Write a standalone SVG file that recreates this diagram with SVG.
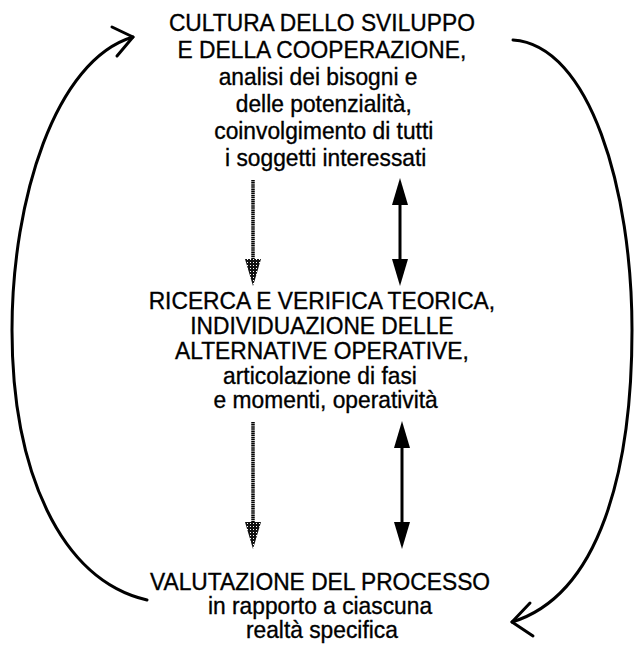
<svg xmlns="http://www.w3.org/2000/svg" width="640" height="648" viewBox="0 0 640 648">
<defs>
<style>
.t{font-family:"Liberation Sans",Arial,sans-serif;font-size:24px;fill:#000;stroke:#000;stroke-width:0.35;text-anchor:middle}
.curve{fill:none;stroke:#000;stroke-width:3;stroke-linecap:round;stroke-linejoin:round}
.dot{fill:none;stroke:#000;stroke-width:3.5;stroke-dasharray:1.5 0.6}
.solid{fill:none;stroke:#000;stroke-width:3}
.head{fill:#000}
.dhead{fill:url(#halftone)}
</style>
<pattern id="halftone" width="3" height="3" patternUnits="userSpaceOnUse">
<rect width="3" height="3" fill="#111"/>
<rect x="1" y="1" width="1" height="1" fill="#fff"/>
</pattern>
</defs>
<rect width="640" height="648" fill="#fff"/>
<g id="node-cultura" transform="translate(320 0) scale(0.95 1) translate(-320 0)">
<text class="t" x="322" y="31">CULTURA DELLO SVILUPPO</text>
<text class="t" x="322" y="58">E DELLA COOPERAZIONE,</text>
<text class="t" x="318" y="85">analisi dei bisogni e</text>
<text class="t" x="324" y="112">delle potenzialità,</text>
<text class="t" x="324" y="139">coinvolgimento di tutti</text>
<text class="t" x="326" y="166">i soggetti interessati</text>
</g>
<g id="node-ricerca" transform="translate(320 0) scale(0.95 1) translate(-320 0)">
<text class="t" x="322" y="309">RICERCA E VERIFICA TEORICA,</text>
<text class="t" x="322" y="334">INDIVIDUAZIONE DELLE</text>
<text class="t" x="322" y="359">ALTERNATIVE OPERATIVE,</text>
<text class="t" x="320" y="384">articolazione di fasi</text>
<text class="t" x="326" y="408">e momenti, operatività</text>
</g>
<g id="node-valutazione" transform="translate(320 0) scale(0.95 1) translate(-320 0)">
<text class="t" x="320" y="590">VALUTAZIONE DEL PROCESSO</text>
<text class="t" x="320" y="614">in rapporto a ciascuna</text>
<text class="t" x="322" y="638">realtà specifica</text>
</g>
<g id="connectors">
<line class="dot" x1="253" y1="180" x2="253" y2="262"/>
<polygon class="dhead" points="245,259 261,259 253,286"/>
<line class="solid" x1="400" y1="195" x2="400" y2="268"/>
<polygon class="head" points="400,178 408,205 392,205"/>
<polygon class="head" points="400,286 408,259 392,259"/>
<line class="dot" x1="253" y1="422" x2="253" y2="525"/>
<polygon class="dhead" points="245,522 261,522 253,549"/>
<line class="solid" x1="402" y1="438" x2="402" y2="532"/>
<polygon class="head" points="402,421 410,448 394,448"/>
<polygon class="head" points="402,549 410,522 394,522"/>
<path class="curve" d="M147,600 C60,580 12,470 12,330 C12,200 55,60 133,37"/>
<polyline class="curve" points="112,27 133,37 117,56"/>
<path class="curve" d="M513,40 C590,45 632,190 632,330 C632,470 600,595 512,622"/>
<polyline class="curve" points="530,603 512,622 533,636"/>
</g>
</svg>
